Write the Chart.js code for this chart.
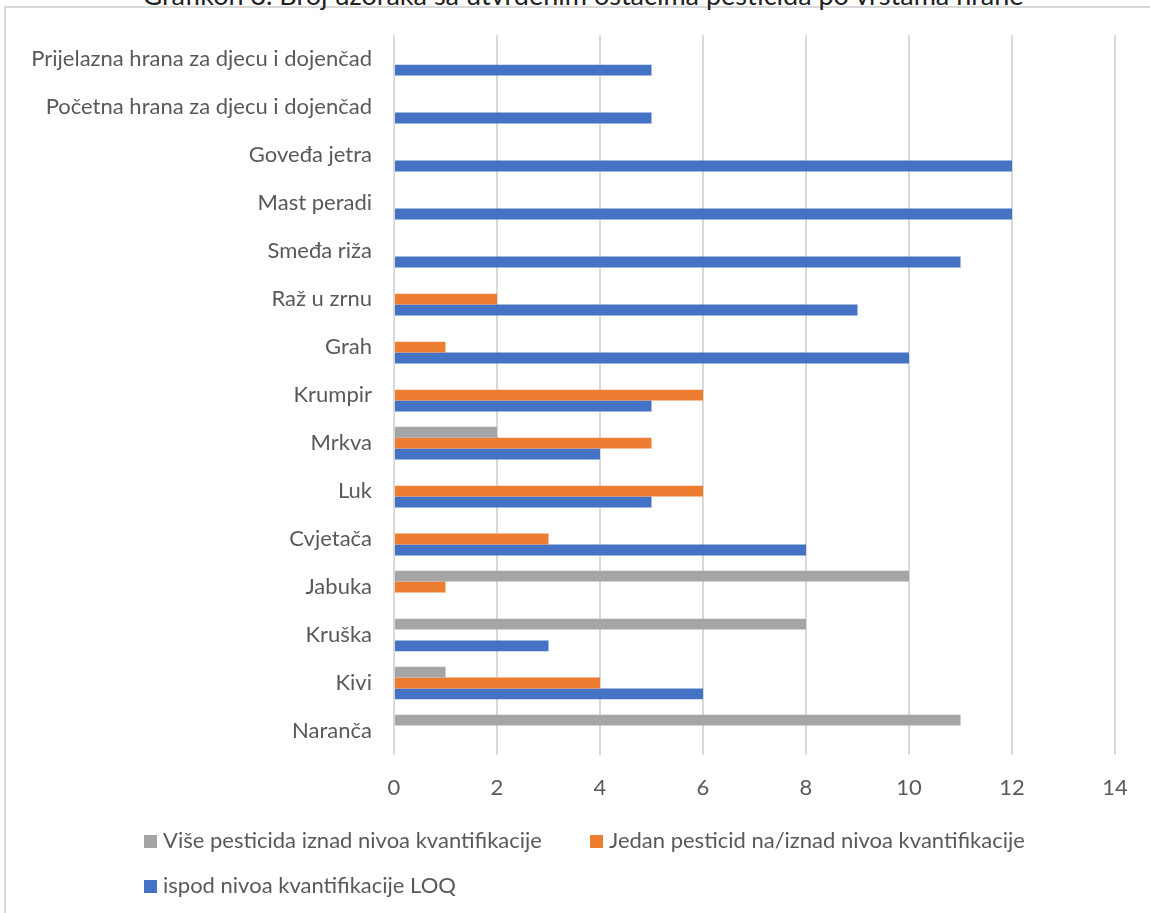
<!DOCTYPE html>
<html>
<head>
<meta charset="utf-8">
<script src="https://cdn.jsdelivr.net/npm/chart.js@4"></script>
<style>
  html, body { margin: 0; padding: 0; background: #fff; }
  body { width: 1150px; height: 913px; position: relative; overflow: hidden; font-family: Lato, "Open Sans", sans-serif; }
  #frame { position: absolute; left: 4px; top: 6px; width: 1200px; height: 1000px; border-left: 2px solid #d9d9d9; border-top: 2px solid #d9d9d9; }
  #title { position: absolute; left: 0; top: -19px; width: 1166px; text-align: center; font-size: 27px; line-height: 27px; color: #222; }
  #wrap { position: absolute; left: 0; top: 0; width: 1150px; height: 913px; }
  .box { position: absolute; width: 13px; height: 13px; }
  .ltext { position: absolute; font-size: 22px; line-height: 22px; color: #595959; white-space: nowrap; }
</style>
</head>
<body>
<div id="frame"></div>
<div id="title">Grafikon 3. Broj uzoraka sa utvrđenim ostacima pesticida po vrstama hrane</div>
<div id="wrap"><canvas id="chart" width="1150" height="913"></canvas></div>
<div id="legend"></div>
<script>
// categories, top to bottom as shown
const categories = [
    "Prijelazna hrana za djecu i dojenčad",
    "Početna hrana za djecu i dojenčad",
    "Goveđa jetra",
    "Mast peradi",
    "Smeđa riža",
    "Raž u zrnu",
    "Grah",
    "Krumpir",
    "Mrkva",
    "Luk",
    "Cvjetača",
    "Jabuka",
    "Kruška",
    "Kivi",
    "Naranča"
];

const seriesNames = [
    "Više pesticida iznad nivoa kvantifikacije",
    "Jedan pesticid na/iznad nivoa kvantifikacije",
    "ispod nivoa kvantifikacije LOQ"
];

const visePesticida = [null, null, null, null, null, null, null, null, 2, null, null, 10, 8, 1, 11];
const jedanPesticid = [null, null, null, null, null, 2, 1, 6, 5, 6, 3, 1, null, 4, null];
const ispodLOQ = [5, 5, 12, 12, 11, 9, 10, 5, 4, 5, 8, null, 3, 6, null];

const xTicks = [0, 2, 4, 6, 8, 10, 12, 14];

const colors = ["#A5A5A5", "#ED7D31", "#4472C4"];

Chart.defaults.font.family = "Lato, 'Open Sans', sans-serif";
Chart.defaults.color = "#595959";

// legend drawn as html, two rows like the original
const legendPos = [
    { left: 144, top: 835 },
    { left: 590, top: 835 },
    { left: 144, top: 880 }
];
const legendDiv = document.getElementById("legend");
seriesNames.forEach((name, i) => {
    const box = document.createElement("div");
    box.className = "box";
    box.style.left = legendPos[i].left + "px";
    box.style.top = legendPos[i].top + "px";
    box.style.background = colors[i];
    legendDiv.appendChild(box);

    const txt = document.createElement("div");
    txt.className = "ltext";
    txt.style.left = (legendPos[i].left + 19) + "px";
    txt.style.top = (legendPos[i].top - 6) + "px";
    txt.textContent = name;
    legendDiv.appendChild(txt);
});

const plotLeft = 394;
const plotTop = 35;
const plotBottom = 755;
const xAxisHeight = 46;

const ctx = document.getElementById("chart").getContext("2d");
const chart = new Chart(ctx, {
    type: "bar",
    data: {
        labels: categories,
        datasets: [
            { label: seriesNames[0], data: visePesticida, backgroundColor: colors[0] },
            { label: seriesNames[1], data: jedanPesticid, backgroundColor: colors[1] },
            { label: seriesNames[2], data: ispodLOQ, backgroundColor: colors[2] }
        ]
    },
    options: {
        indexAxis: "y",
        responsive: false,
        animation: false,
        categoryPercentage: 0.68,
        barPercentage: 1.0,
        layout: {
            padding: { left: 0, right: 35, top: plotTop, bottom: 913 - plotBottom - xAxisHeight }
        },
        plugins: {
            legend: { display: false },
            tooltip: { enabled: false }
        },
        scales: {
            x: {
                min: 0,
                max: 14,
                afterBuildTicks: scale => { scale.ticks = xTicks.map(v => ({ value: v })); },
                afterFit: scale => { scale.height = xAxisHeight; },
                grid: { color: "#d9d9d9", lineWidth: 2, drawTicks: false },
                border: { display: false },
                ticks: { padding: 20, font: { size: 22 }, color: "#595959" }
            },
            y: {
                afterFit: scale => { scale.width = plotLeft; },
                grid: { display: false, drawTicks: false },
                border: { display: false },
                ticks: { padding: 22, font: { size: 22 }, color: "#595959" }
            }
        }
    }
});
</script>
</body>
</html>
